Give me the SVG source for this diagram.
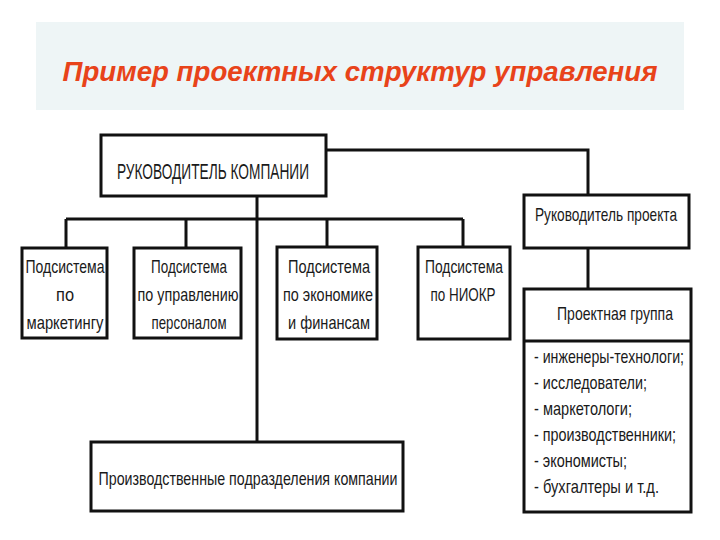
<svg xmlns="http://www.w3.org/2000/svg" width="720" height="540" viewBox="0 0 720 540">
<style>
.box{fill:#fff;stroke:#111;stroke-width:3}
.ln{fill:none;stroke:#111;stroke-width:3}
.t{font-family:"Liberation Sans",Arial,sans-serif;font-size:19px;fill:#1a1a1a}
.c{text-anchor:middle}
.title{font-family:"Liberation Sans",Arial,sans-serif;font-weight:bold;font-style:italic;font-size:27px;fill:#e8431a;text-anchor:middle}
</style>
<rect x="36" y="22" width="648" height="88" fill="#eef5f6"/>
<text class="title" x="360" y="81" textLength="595" lengthAdjust="spacingAndGlyphs">Пример проектных структур управления</text>
<g id="connectors">
<polyline class="ln" points="326,150 588,150 588,195"/>
<line class="ln" x1="257" y1="196" x2="257" y2="442"/>
<line class="ln" x1="66" y1="219" x2="463" y2="219"/>
<line class="ln" x1="66" y1="219" x2="66" y2="248"/>
<line class="ln" x1="186" y1="219" x2="186" y2="248"/>
<line class="ln" x1="327" y1="219" x2="327" y2="247"/>
<line class="ln" x1="463" y1="219" x2="463" y2="247"/>
<line class="ln" x1="588" y1="248" x2="588" y2="289"/>
</g>
<g id="ceo">
<rect class="box" x="101" y="135" width="225" height="61"/>
<text class="t c" x="213" y="179" style="font-size:22px" textLength="192" lengthAdjust="spacingAndGlyphs">РУКОВОДИТЕЛЬ КОМПАНИИ</text>
</g>
<g id="pm">
<rect class="box" x="524" y="195" width="165" height="53"/>
<text class="t c" x="606" y="221" textLength="142" lengthAdjust="spacingAndGlyphs">Руководитель проекта</text>
</g>
<g id="s1">
<rect class="box" x="22" y="248" width="85" height="90"/>
<text class="t c" x="65" y="273" textLength="79" lengthAdjust="spacingAndGlyphs">Подсистема</text>
<text class="t c" x="65" y="301" textLength="18" lengthAdjust="spacingAndGlyphs">по</text>
<text class="t c" x="65" y="329" textLength="77" lengthAdjust="spacingAndGlyphs">маркетингу</text>
</g>
<g id="s2">
<rect class="box" x="134" y="248" width="107" height="90"/>
<text class="t c" x="189" y="273" textLength="76" lengthAdjust="spacingAndGlyphs">Подсистема</text>
<text class="t c" x="188" y="301" textLength="101" lengthAdjust="spacingAndGlyphs">по управлению</text>
<text class="t c" x="189" y="329" textLength="75" lengthAdjust="spacingAndGlyphs">персоналом</text>
</g>
<g id="s3">
<rect class="box" x="277" y="247" width="100" height="92"/>
<text class="t c" x="329" y="273" textLength="82" lengthAdjust="spacingAndGlyphs">Подсистема</text>
<text class="t c" x="328" y="301" textLength="90" lengthAdjust="spacingAndGlyphs">по экономике</text>
<text class="t c" x="329" y="329" textLength="82" lengthAdjust="spacingAndGlyphs">и финансам</text>
</g>
<g id="s4">
<rect class="box" x="418" y="247" width="92" height="92"/>
<text class="t c" x="464" y="273" textLength="78" lengthAdjust="spacingAndGlyphs">Подсистема</text>
<text class="t c" x="463" y="301" textLength="65" lengthAdjust="spacingAndGlyphs">по НИОКР</text>
</g>
<g id="pg">
<rect class="box" x="524" y="289" width="167" height="223"/>
<line class="ln" x1="524" y1="341" x2="691" y2="341"/>
<text class="t c" x="615" y="320" textLength="116" lengthAdjust="spacingAndGlyphs">Проектная группа</text>
<text class="t" x="534" y="363" textLength="150" lengthAdjust="spacingAndGlyphs">- инженеры-технологи;</text>
<text class="t" x="534" y="389" textLength="113" lengthAdjust="spacingAndGlyphs">- исследователи;</text>
<text class="t" x="534" y="415" textLength="98" lengthAdjust="spacingAndGlyphs">- маркетологи;</text>
<text class="t" x="534" y="441" textLength="142" lengthAdjust="spacingAndGlyphs">- производственники;</text>
<text class="t" x="534" y="467" textLength="93" lengthAdjust="spacingAndGlyphs">- экономисты;</text>
<text class="t" x="534" y="493" textLength="125" lengthAdjust="spacingAndGlyphs">- бухгалтеры и т.д.</text>
</g>
<g id="prod">
<rect class="box" x="91" y="442" width="312" height="69"/>
<text class="t c" x="248" y="485" textLength="299" lengthAdjust="spacingAndGlyphs">Производственные подразделения компании</text>
</g>
</svg>
